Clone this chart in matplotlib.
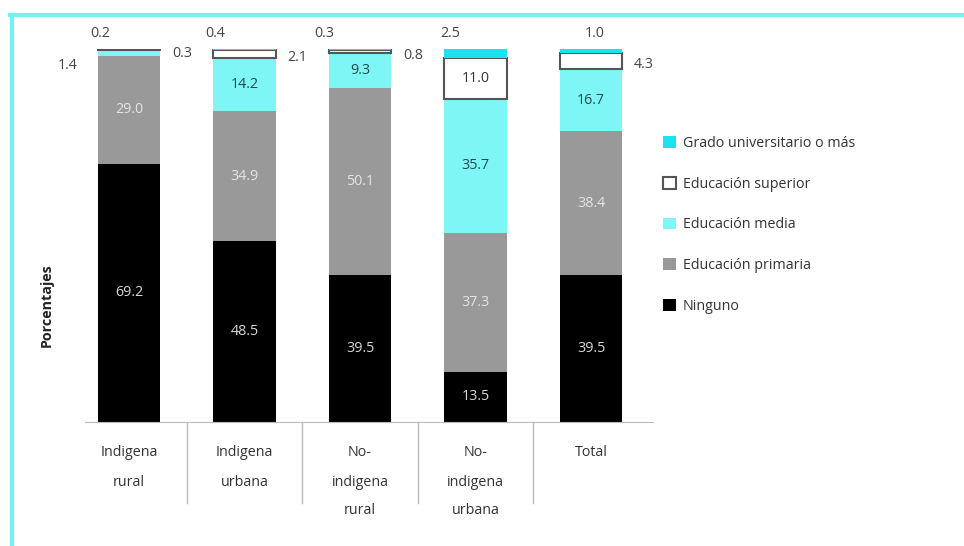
import matplotlib.pyplot as plt
import numpy as np
from matplotlib.patches import Patch
from matplotlib.lines import Line2D

plt.rcParams['font.family'] = ['Open Sans', 'DejaVu Sans']

# share of population by education level (percent)
categories = ["Indigena\nrural", "Indigena\nurbana", "No-\nindigena\nrural",
              "No-\nindigena\nurbana", "Total"]
ninguno = [69.2, 48.5, 39.5, 13.5, 39.5]
primaria = [29.0, 34.9, 50.1, 37.3, 38.4]
media = [1.4, 14.2, 9.3, 35.7, 16.7]
superior = [0.3, 2.1, 0.8, 11.0, 4.3]
universitario = [0.2, 0.4, 0.3, 2.5, 1.0]

# stacking order bottom -> top
series = [
    ("Ninguno", ninguno, dict(facecolor="#000000"), "#d8d8d8"),
    ("Educación primaria", primaria, dict(facecolor="#999999"), "#e4e4e4"),
    ("Educación media", media, dict(facecolor="#7ff6f6"), "#1d4a50"),
    ("Educación superior", superior, dict(facecolor="white", edgecolor="#555555", linewidth=1.5), "#333333"),
    ("Grado universitario o más", universitario, dict(facecolor="#19e3ee"), "#444444"),
]

FS = 10.3
W, H = 964, 546
fig = plt.figure(figsize=(W / 100, H / 100), dpi=100)

# axes placed in pixel terms: baseline at y=422, 100% at y=49, bars centred from x=129 every 115.5 px
x0, x1 = 85, 653
unit = 115.5
xmin = (x0 - 129) / unit
xmax = (x1 - 129) / unit
ax = fig.add_axes([x0 / W, (H - 422) / H, (x1 - x0) / W, 373 / H])
ax.set_xlim(xmin, xmax)
ax.set_ylim(0, 100)

pos = np.arange(len(categories))
bar_w = 0.54
bottom = np.zeros(len(categories))

top_dx = [-0.25, -0.25, -0.31, -0.22, 0.03]
for name, vals, style, tcol in series:
    vals = np.array(vals)
    ax.bar(pos, vals, bar_w, bottom=bottom, **style)
    for i, v in enumerate(vals):
        mid = bottom[i] + v / 2
        txt = f"{v:.1f}"
        if name == "Grado universitario o más":
            ax.text(pos[i] + top_dx[i], 104.2, txt, ha="center", va="center",
                    fontsize=FS, color="#444444", clip_on=False)
        elif v >= 5:
            ax.text(pos[i], mid, txt, ha="center", va="center", fontsize=FS,
                    color=tcol)
        elif name == "Educación media":
            ax.text(pos[i] - 0.53, mid - 3.2, txt, ha="center", va="center",
                    fontsize=FS, color="#444444", clip_on=False)
        else:
            ax.text(pos[i] + 0.46, mid - 1.0, txt, ha="center", va="center",
                    fontsize=FS, color="#444444", clip_on=False)
    bottom += vals

for s in ["top", "right", "left"]:
    ax.spines[s].set_visible(False)
ax.spines["bottom"].set_color("#bbbbbb")
ax.set_yticks([])
ax.set_xticks([])

# category labels, one line at a time
for i, cat in enumerate(categories):
    for j, line in enumerate(cat.split("\n")):
        fig.text((129 + i * unit) / W, 1 - (453 + j * 29) / H, line,
                 ha="center", va="center", fontsize=FS, color="#333333")

# separators between categories
for k in range(len(categories) - 1):
    ax.plot([k + 0.5, k + 0.5], [0, -21.7], color="#bbbbbb", lw=1, clip_on=False)

fig.text(47 / W, 1 - 305 / H, "Porcentajes", rotation=90, ha="center", va="center",
         fontsize=FS, fontweight="bold", color="#222222")

handles = [Patch(label=name, **style) for name, vals, style, tcol in series][::-1]
fig.legend(handles=handles, loc="upper left", bbox_to_anchor=(650 / W, 1 - 123 / H),
           frameon=False, fontsize=FS, handlelength=0.9, handleheight=0.9,
           handletextpad=0.5, labelspacing=1.8, labelcolor="#333333")

# cyan frame along top and left edges
fig.add_artist(Line2D([10 / W, 1], [1 - 14.5 / H, 1 - 14.5 / H], color="#74f2f2", lw=3))
fig.add_artist(Line2D([11.5 / W, 11.5 / W], [0, 1 - 14.5 / H], color="#74f2f2", lw=3))

fig.savefig("out.png", dpi=100)
